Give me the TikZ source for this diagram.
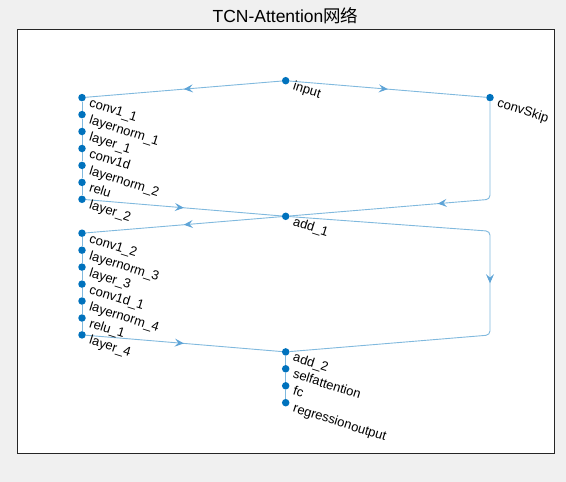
\documentclass[tikz,border=0pt]{standalone}
\usepackage{fontspec}
\setmainfont{Liberation Sans}
\newfontfamily\cjk{Noto Sans CJK SC}
\usetikzlibrary{arrows.meta,decorations.markings,backgrounds}
\definecolor{figbg}{HTML}{F0F0F0}
\definecolor{frame}{HTML}{262626}
\definecolor{dotblue}{HTML}{0072BD}
\definecolor{edgeblue}{HTML}{80B9DE}
\definecolor{tipblue}{HTML}{5EA4D7}
\tikzset{
  layer/.style={circle,fill=dotblue,inner sep=0pt,minimum size=7.5pt},
  lab/.style={anchor=base west,rotate=-17.5,inner sep=0pt,font=\fontsize{13}{13}\selectfont},
  link/.style={draw=edgeblue,line width=0.9pt},
  flow/.style={link,postaction={decorate},
    decoration={markings,mark=at position 0.5 with {\arrow{Stealth[length=9pt,width=8pt,inset=3.5pt,color=tipblue]}}}}
}

\begin{document}
\begin{tikzpicture}[
    x=1pt,y=-1pt,
    axesbox/.style={draw=frame,fill=white,line width=0.8pt},
    titletext/.style={anchor=base,font=\fontsize{17.5}{17.5}\selectfont}
  ]
    % layers: left branch, middle column, skip column
    \node[layer] (input)    at (285.7,80.7)  {};
    \node[layer] (convSkip) at (490,97.6)    {};
    \node[layer] (convA)    at (82,97.6)     {};
    \node[layer] (normA)    at (82,114.6)    {};
    \node[layer] (layA)     at (82,131.5)    {};
    \node[layer] (convB)    at (82,148.5)    {};
    \node[layer] (normB)    at (82,165.4)    {};
    \node[layer] (reluA)    at (82,182.4)    {};
    \node[layer] (layB)     at (82,199.3)    {};
    \node[layer] (addA)     at (285.7,216.3) {};
    \node[layer] (convC)    at (82,233.2)    {};
    \node[layer] (normC)    at (82,250.2)    {};
    \node[layer] (layC)     at (82,267.1)    {};
    \node[layer] (convD)    at (82,284.1)    {};
    \node[layer] (normD)    at (82,301.0)    {};
    \node[layer] (reluB)    at (82,318.0)    {};
    \node[layer] (layD)     at (82,334.9)    {};
    \node[layer] (addB)     at (285.7,351.9) {};
    \node[layer] (attn)     at (285.7,368.8) {};
    \node[layer] (fc)       at (285.7,385.8) {};
    \node[layer] (regout)   at (285.7,402.7) {};

    \node[lab] at ([shift={(6.5,9)}]input.center)    {input};
    \node[lab] at ([shift={(6.5,9)}]convSkip.center) {convSkip};
    \node[lab] at ([shift={(6.5,9)}]convA.center)    {conv1\_1};
    \node[lab] at ([shift={(6.5,9)}]normA.center)    {layernorm\_1};
    \node[lab] at ([shift={(6.5,9)}]layA.center)     {layer\_1};
    \node[lab] at ([shift={(6.5,9)}]convB.center)    {conv1d};
    \node[lab] at ([shift={(6.5,9)}]normB.center)    {layernorm\_2};
    \node[lab] at ([shift={(6.5,9)}]reluA.center)    {relu};
    \node[lab] at ([shift={(6.5,9)}]layB.center)     {layer\_2};
    \node[lab] at ([shift={(6.5,9)}]addA.center)     {add\_1};
    \node[lab] at ([shift={(6.5,9)}]convC.center)    {conv1\_2};
    \node[lab] at ([shift={(6.5,9)}]normC.center)    {layernorm\_3};
    \node[lab] at ([shift={(6.5,9)}]layC.center)     {layer\_3};
    \node[lab] at ([shift={(6.5,9)}]convD.center)    {conv1d\_1};
    \node[lab] at ([shift={(6.5,9)}]normD.center)    {layernorm\_4};
    \node[lab] at ([shift={(6.5,9)}]reluB.center)    {relu\_1};
    \node[lab] at ([shift={(6.5,9)}]layD.center)     {layer\_4};
    \node[lab] at ([shift={(6.5,9)}]addB.center)     {add\_2};
    \node[lab] at ([shift={(6.5,9)}]attn.center)     {selfattention};
    \node[lab] at ([shift={(6.5,9)}]fc.center)       {fc};
    \node[lab] at ([shift={(6.5,9)}]regout.center)   {regressionoutput};

    \node[titletext] (title) at (285.5,22.3) {TCN-Attention{\cjk 网络}};

    \coordinate (skipBend) at (490,199.3);
    \coordinate (loopTop)  at (490,231.2);
    \coordinate (loopBot)  at (490,335.0);

    \begin{scope}[on background layer]
      \fill[figbg] (0,0) rectangle (566,482);
      \draw[axesbox] (17.5,29.3) rectangle (554.3,453.3);

      \draw[flow] (input) -- (convA);
      \draw[flow] (input) -- (convSkip);
      \draw[flow,rounded corners=4pt] (convSkip) -- (skipBend) -- (addA);
      \draw[flow] (layB) -- (addA);
      \draw[flow] (addA) -- (convC);
      \draw[flow,rounded corners=4pt] (addA) -- (loopTop) -- (loopBot) -- (addB);
      \draw[flow] (layD) -- (addB);

      % short links inside the stacks
      \draw[link] (convA) -- (normA) -- (layA) -- (convB) -- (normB) -- (reluA) -- (layB);
      \draw[link] (convC) -- (normC) -- (layC) -- (convD) -- (normD) -- (reluB) -- (layD);
      \draw[link] (addB) -- (attn) -- (fc) -- (regout);
    \end{scope}
  \end{tikzpicture}
\end{document}
